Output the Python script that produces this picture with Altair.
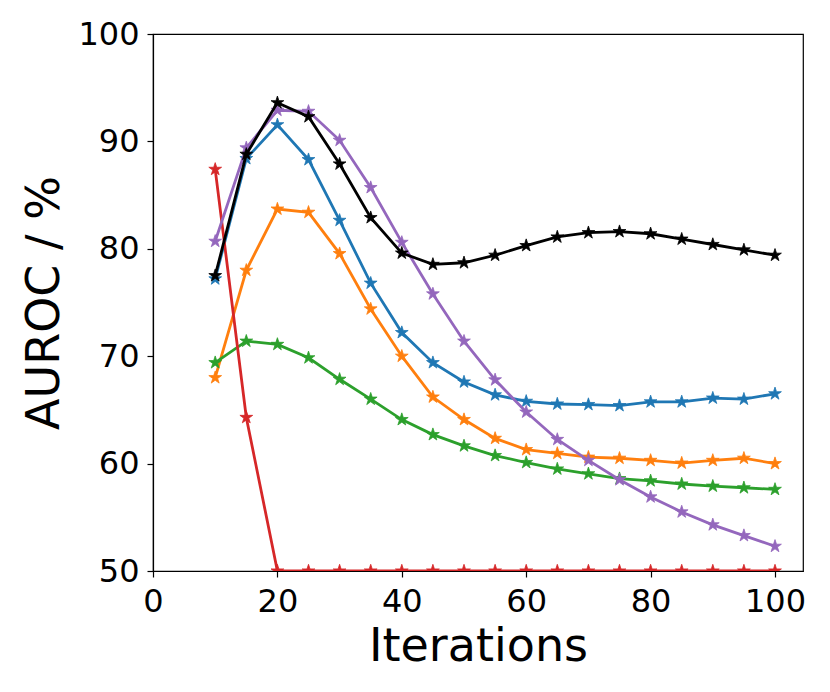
import altair as alt
import pandas as pd

iterations = [10, 15, 20, 25, 30, 35, 40, 45, 50, 55, 60, 65, 70, 75, 80, 85, 90, 95, 100]

blue = [77.2, 88.4, 91.55, 88.3, 82.65, 76.8, 72.2, 69.4, 67.6, 66.4, 65.8, 65.55, 65.5, 65.4, 65.75, 65.75, 66.1, 66.0, 66.5]
orange = [68.0, 78.0, 83.7, 83.4, 79.55, 74.4, 70.0, 66.2, 64.1, 62.35, 61.3, 60.95, 60.6, 60.5, 60.3, 60.05, 60.3, 60.5, 60.0]
green = [69.4, 71.4, 71.1, 69.85, 67.85, 66.0, 64.1, 62.7, 61.65, 60.75, 60.1, 59.5, 59.05, 58.6, 58.4, 58.1, 57.9, 57.75, 57.6]
red = [87.4, 64.3, 50.0, 50.0, 50.0, 50.0, 50.0, 50.0, 50.0, 50.0, 50.0, 50.0, 50.0, 50.0, 50.0, 50.0, 50.0, 50.0, 50.0]
purple = [80.7, 89.4, 92.9, 92.8, 90.1, 85.7, 80.6, 75.8, 71.4, 67.8, 64.8, 62.25, 60.3, 58.5, 56.9, 55.5, 54.3, 53.3, 52.3]
black = [77.5, 88.8, 93.6, 92.3, 87.9, 82.9, 79.6, 78.55, 78.7, 79.4, 80.3, 81.1, 81.5, 81.6, 81.4, 80.9, 80.4, 79.9, 79.4]

series_names = ["s1_blue", "s2_orange", "s3_green", "s4_red", "s5_purple", "s6_black"]
series_values = [blue, orange, green, red, purple, black]
series_colors = ["#1f77b4", "#ff7f0e", "#2ca02c", "#d62728", "#9467bd", "#000000"]

x_ticks = [0, 20, 40, 60, 80, 100]
y_ticks = [50, 60, 70, 80, 90, 100]

rows = []
for name, vals in zip(series_names, series_values):
    for it, v in zip(iterations, vals):
        rows.append({"iter": it, "val": v, "series": name})
df = pd.DataFrame(rows)

FONT = "DejaVu Sans"
STAR = ("M0,-1L0.2245,-0.309L0.951,-0.309L0.3633,0.118L0.5878,0.809L0,0.382"
        "L-0.5878,0.809L-0.3633,0.118L-0.951,-0.309L-0.2245,-0.309Z")

x_enc = alt.X(
    "iter:Q",
    scale=alt.Scale(domain=[0, 104.5], nice=False, zero=False),
    axis=alt.Axis(
        values=x_ticks, title="Iterations", grid=False,
        labelFontSize=32, titleFontSize=46, labelFont=FONT, titleFont=FONT,
        labelColor="black", titleColor="black", titleFontWeight="normal",
        tickSize=6, tickWidth=1.2, tickColor="black",
        domainColor="black", domainWidth=1.2,
        labelBaseline="alphabetic", labelPadding=34,
        titleBaseline="alphabetic", titleY=89, titleAnchor="middle",
        labelFlush=False, labelOverlap=False,
    ),
)
y_enc = alt.Y(
    "val:Q",
    scale=alt.Scale(domain=[50, 100], nice=False, zero=False),
    axis=alt.Axis(
        values=y_ticks, title="AUROC / %", grid=False,
        labelFontSize=32, titleFontSize=46, labelFont=FONT, titleFont=FONT,
        labelColor="black", titleColor="black", titleFontWeight="normal",
        tickSize=6, tickWidth=1.2, tickColor="black",
        domainColor="black", domainWidth=1.2,
        labelPadding=8, titleBaseline="alphabetic", titleX=-95,
        titleAnchor="middle", labelFlush=False, labelOverlap=False,
    ),
)

layers = []
for name, col in zip(series_names, series_colors):
    base = alt.Chart(df).transform_filter(alt.datum.series == name)
    layers.append(
        base.mark_line(color=col, strokeWidth=2.8, clip=True).encode(x=x_enc, y=y_enc)
    )
    layers.append(
        base.mark_point(shape=STAR, filled=True, size=180, opacity=1, color=col,
                        stroke=col, strokeWidth=0.8, clip=True)
        .encode(x=x_enc, y=y_enc)
    )

chart = (
    alt.layer(*layers)
    .properties(
        width=650, height=537,
        autosize=alt.AutoSizeParams(type="none"),
        padding={"left": 145, "top": 26, "right": 19, "bottom": 113},
        background="white",
    )
    .configure_view(stroke="black", strokeWidth=1.2)
)

chart.save("out.html", embed_options={"renderer": "svg", "actions": False})
